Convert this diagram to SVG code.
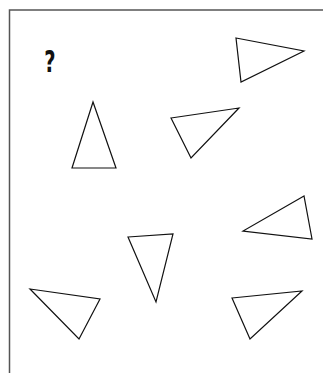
<svg xmlns="http://www.w3.org/2000/svg" width="323" height="373" viewBox="0 0 323 373">
<style>
.frame{fill:none;stroke:#555;stroke-width:1.5}
.tri{fill:none;stroke:#111;stroke-width:1.2;stroke-linejoin:miter}
.q{font-family:"DejaVu Sans","Liberation Sans",sans-serif;font-weight:bold;font-size:30px;fill:#111}
</style>
<rect width="323" height="373" fill="#fff"/>
<path class="frame" d="M9.5,373 V10 H323"/>
<text class="q" transform="translate(50,72) scale(0.65,1)" x="0" y="0" text-anchor="middle">?</text>
<g id="tri1"><polygon class="tri" points="236,38 304,51 241,82"/></g>
<g id="tri2"><polygon class="tri" points="93,102 72,168 116,168"/></g>
<g id="tri3"><polygon class="tri" points="171,118 239,108 191,158"/></g>
<g id="tri4"><polygon class="tri" points="304,196 243,231 312,239"/></g>
<g id="tri5"><polygon class="tri" points="128,237 173,234 156,302"/></g>
<g id="tri6"><polygon class="tri" points="30,289 100,299 79,339"/></g>
<g id="tri7"><polygon class="tri" points="232,298 302,291 250,339"/></g>
</svg>
